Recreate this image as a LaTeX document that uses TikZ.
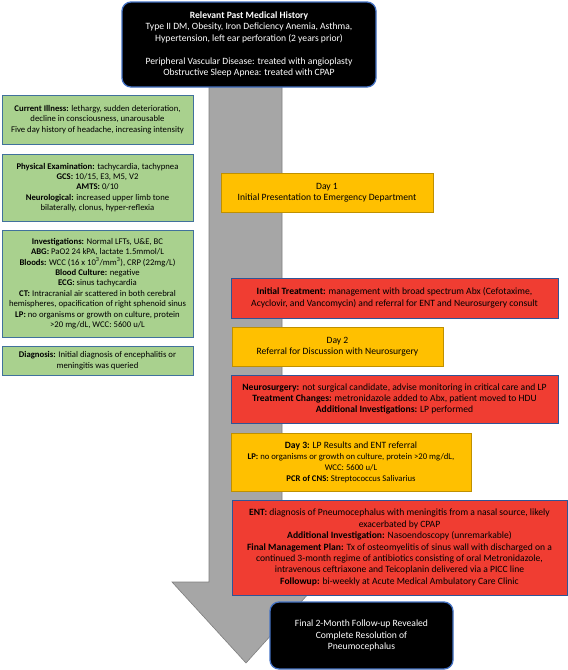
\documentclass[tikz,border=0pt]{standalone}
\usepackage{fontspec}
\setmainfont{Carlito}
\definecolor{gfill}{HTML}{A9D18E}
\definecolor{bblue}{HTML}{41719C}
\definecolor{yfill}{HTML}{FFC000}
\definecolor{yline}{HTML}{BF9000}
\definecolor{rfill}{HTML}{F03D32}
\definecolor{rline}{HTML}{2F5597}
\definecolor{afill}{HTML}{A6A6A6}
\definecolor{aline}{HTML}{7F7F7F}
\definecolor{kline}{HTML}{4472C4}
\newcommand\fsgreen{\fontsize{8.7}{10.4}\selectfont}
\newcommand\fsbig{\fontsize{9.6}{11.4}\selectfont}
\newcommand\fsmid{\fontsize{8.7}{11}\selectfont}
\begin{document}
\begin{tikzpicture}[x=1pt,y=-1pt,
  box/.style={rectangle, align=center, inner sep=2pt, anchor=center},
  greenbox/.style={box, fill=gfill, draw=bblue, line width=1pt, font=\fsgreen},
  yellowbox/.style={box, fill=yfill, draw=yline, line width=1pt, font=\fsbig},
  redbox/.style={box, fill=rfill, draw=rline, line width=1pt, font=\fsbig},
  blackbox/.style={box, fill=black, draw=kline, line width=1.3pt, rounded corners=9pt, text=white, font=\fsbig},
  arrowshape/.style={fill=afill, draw=aline, line width=0.6pt}]
\useasboundingbox (0,0) rectangle (568,670);
% big grey arrow
\draw[arrowshape] (209,80) -- (282,80) -- (282,582) -- (319,582) -- (246,663) -- (172,582) -- (209,582) -- cycle;
% top box
\node[blackbox, minimum width=254, minimum height=85] (ph) at (249,44.5)
 {\textbf{Relevant Past Medical History}\\
 Type II DM, Obesity, Iron Deficiency Anemia, Asthma,\\
 Hypertension, left ear perforation (2 years prior)\\[11.4pt]
 Peripheral Vascular Disease: treated with angioplasty\\
 Obstructive Sleep Apnea: treated with CPAP};
% green boxes
\node[greenbox, minimum width=191, minimum height=49] (ci) at (97.5,119.5)
 {\textbf{Current Illness:} lethargy, sudden deterioration,\\
 decline in consciousness, unarousable\\
 Five day history of headache, increasing intensity};
\node[greenbox, minimum width=191, minimum height=67] (pe) at (97.5,187.5)
 {\textbf{Physical Examination:} tachycardia, tachypnea\\
 \textbf{GCS:} 10/15, E3, M5, V2\\
 \textbf{AMTS:} 0/10\\
 \textbf{Neurological:} increased upper limb tone\\
 bilaterally, clonus, hyper-reflexia};
\node[greenbox, minimum width=191, minimum height=107] (inv) at (97.5,283.5)
 {\textbf{Investigations:} Normal LFTs, U\&E, BC\\
 \textbf{ABG:} PaO2 24 kPA, lactate 1.5mmol/L\\
 \textbf{Bloods:} WCC (16 x 10\textsuperscript{3}/mm\textsuperscript{3}), CRP (22mg/L)\\
 \textbf{Blood Culture:} negative\\
 \textbf{ECG:} sinus tachycardia\\
 \textbf{CT:} Intracranial air scattered in both cerebral\\
 hemispheres, opacification of right sphenoid sinus\\
 \textbf{LP:} no organisms or growth on culture, protein\\
 {>}20 mg/dL, WCC: 5600 u/L};
\node[greenbox, minimum width=191, minimum height=29] (dx) at (97.5,360.5)
 {\textbf{Diagnosis:} Initial diagnosis of encephalitis or\\
 meningitis was queried};
% timeline boxes
\node[yellowbox, minimum width=212, minimum height=39] (d1) at (327,192.5)
 {Day 1\\ Initial Presentation to Emergency Department};
\node[redbox, minimum width=327, minimum height=40] (it) at (394.5,298)
 {\textbf{Initial Treatment:} management with broad spectrum Abx (Cefotaxime,\\
 Acyclovir, and Vancomycin) and referral for ENT and Neurosurgery consult};
\node[yellowbox, minimum width=211, minimum height=39] (d2) at (337.5,346.5)
 {Day 2\\ Referral for Discussion with Neurosurgery};
\node[redbox, minimum width=327, minimum height=48] (ns) at (394.5,399)
 {\textbf{Neurosurgery:} not surgical candidate, advise monitoring in critical care and LP\\
 \textbf{Treatment Changes:} metronidazole added to Abx, patient moved to HDU\\
 \textbf{Additional Investigations:} LP performed};
\node[yellowbox, font=\fsmid, minimum width=240, minimum height=58] (d3) at (351,462)
 {{\fsbig\textbf{Day 3:} LP Results and ENT referral}\\
 \textbf{LP:} no organisms or growth on culture, protein {>}20 mg/dL,\\
 WCC: 5600 u/L\\
 \textbf{PCR of CNS:} Streptococcus Salivarius};
\node[redbox, minimum width=335, minimum height=95] (ent) at (399.5,547.5)
 {\textbf{ENT:} diagnosis of Pneumocephalus with meningitis from a nasal source, likely\\
 exacerbated by CPAP\\
 \textbf{Additional Investigation:} Nasoendoscopy (unremarkable)\\
 \textbf{Final Management Plan:} Tx of osteomyelitis of sinus wall with discharged on a\\
 continued 3-month regime of antibiotics consisting of oral Metronidazole,\\
 intravenous ceftriaxone and Teicoplanin delivered via a PICC line\\
 \textbf{Followup:} bi-weekly at Acute Medical Ambulatory Care Clinic};
\node[blackbox, minimum width=183, minimum height=67] (fin) at (361.5,635.5)
 {Final 2-Month Follow-up Revealed\\ Complete Resolution of\\ Pneumocephalus};
\end{tikzpicture}
\end{document}
